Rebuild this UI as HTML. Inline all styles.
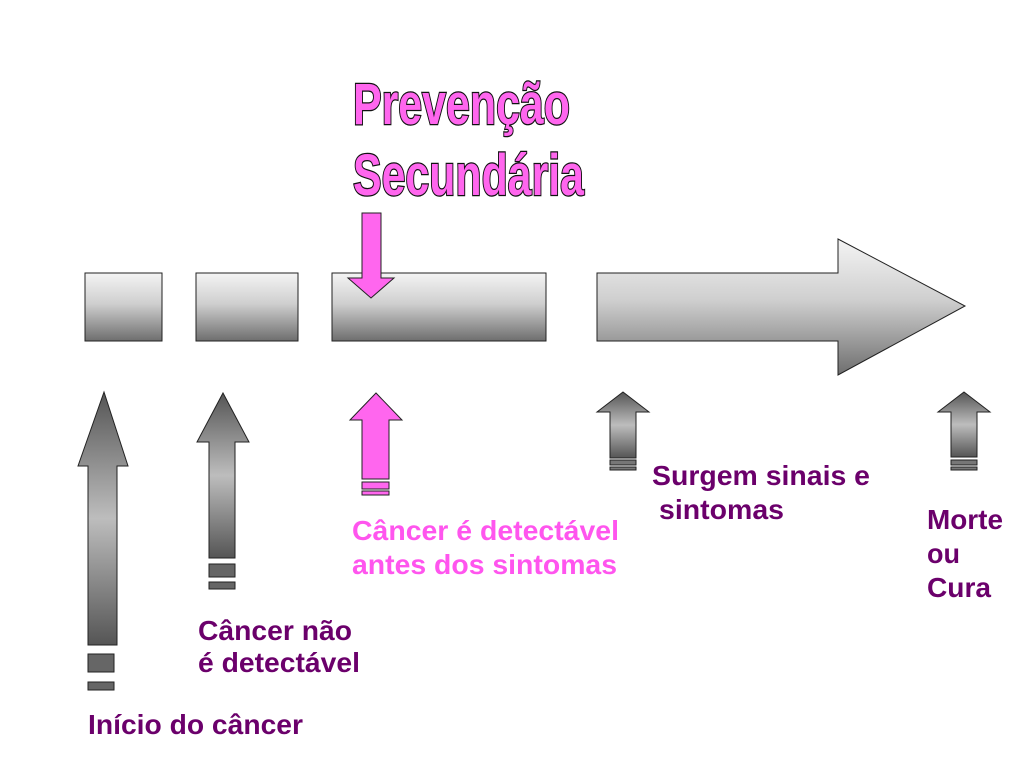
<!DOCTYPE html>
<html><head><meta charset="utf-8"><style>
html,body{margin:0;padding:0;background:#fff;width:1024px;height:768px;overflow:hidden}
svg{display:block}
text{font-family:"Liberation Sans",sans-serif;font-weight:bold}
</style></head><body>
<svg width="1024" height="768" viewBox="0 0 1024 768" xmlns="http://www.w3.org/2000/svg">
<defs>
<linearGradient id="bv" x1="0" y1="0" x2="0" y2="1">
<stop offset="0" stop-color="#f4f4f4"/><stop offset="0.45" stop-color="#cfcfcf"/><stop offset="1" stop-color="#6e6e6e"/></linearGradient>
<linearGradient id="av" x1="0" y1="0" x2="0" y2="1">
<stop offset="0" stop-color="#555"/><stop offset="0.5" stop-color="#bdbdbd"/><stop offset="1" stop-color="#555"/></linearGradient>
</defs>
<g stroke="#222" stroke-width="1">
<rect x="85" y="273" width="77" height="68" fill="url(#bv)"/>
<rect x="196" y="273" width="102" height="68" fill="url(#bv)"/>
<rect x="332" y="273" width="214" height="68" fill="url(#bv)"/>
<polygon points="597,273 838,273 838,239 965,306 838,375 838,341 597,341" fill="url(#bv)"/>
<polygon points="104,392 128,466 117,466 117,645 88,645 88,466 78,466" fill="url(#av)"/>
<rect x="88" y="654" width="26" height="18" fill="#666"/><rect x="88" y="682" width="26" height="8" fill="#666"/>
<polygon points="223,393 249,442 235,442 235,558 209,558 209,442 197,442" fill="url(#av)"/>
<rect x="209" y="564" width="26" height="13" fill="#666"/><rect x="209" y="582" width="26" height="7" fill="#666"/>
<polygon points="376,393 402,420 389,420 389,479 362,479 362,420 350,420" fill="#ff66ee"/>
<rect x="362" y="482" width="27" height="7" fill="#ff66ee"/><rect x="362" y="491" width="27" height="4" fill="#ff66ee"/>
<polygon points="623,392 649,412 636,412 636,458 610,458 610,412 597,412" fill="url(#av)"/>
<rect x="610" y="460" width="26" height="5" fill="#777"/><rect x="610" y="467" width="26" height="3" fill="#777"/>
<polygon points="964,392 990,412 977,412 977,457 951,457 951,412 938,412" fill="url(#av)"/>
<rect x="951" y="460" width="26" height="5" fill="#777"/><rect x="951" y="467" width="26" height="3" fill="#777"/>
<polygon points="362,213 381,213 381,278 394,278 371,298 348,278 362,278" fill="#ff66ee"/>
</g>
<g fill="#ff66ee" stroke="#111" stroke-width="2.5" paint-order="stroke" font-size="58">
<text x="353" y="124" textLength="217" lengthAdjust="spacingAndGlyphs">Prevenção</text>
<text x="353" y="195" textLength="231" lengthAdjust="spacingAndGlyphs">Secundária</text>
</g>
<g fill="#6b006b" font-size="28" lengthAdjust="spacingAndGlyphs">
<text x="88" y="734" textLength="215" lengthAdjust="spacingAndGlyphs">Início do câncer</text>
<text x="198" y="640" textLength="154" lengthAdjust="spacingAndGlyphs">Câncer não</text>
<text x="198" y="672" textLength="162" lengthAdjust="spacingAndGlyphs">é detectável</text>
<text x="652" y="485" textLength="218" lengthAdjust="spacingAndGlyphs">Surgem sinais e</text>
<text x="659" y="519" textLength="125" lengthAdjust="spacingAndGlyphs">sintomas</text>
<text x="927" y="529" textLength="76" lengthAdjust="spacingAndGlyphs">Morte</text>
<text x="927" y="563" textLength="33" lengthAdjust="spacingAndGlyphs">ou</text>
<text x="927" y="597" textLength="64" lengthAdjust="spacingAndGlyphs">Cura</text>
</g>
<g fill="#ff55ee" font-size="28">
<text x="352" y="540" textLength="267" lengthAdjust="spacingAndGlyphs">Câncer é detectável</text>
<text x="352" y="574" textLength="265" lengthAdjust="spacingAndGlyphs">antes dos sintomas</text>
</g>
</svg>
</body></html>
